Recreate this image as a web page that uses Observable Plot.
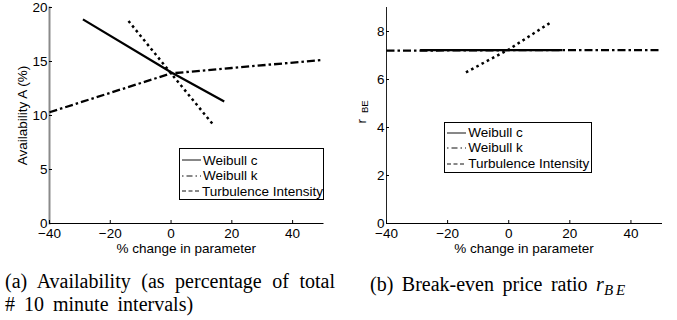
<!DOCTYPE html>
<html>
<head>
<meta charset="utf-8">
<script src="https://cdn.jsdelivr.net/npm/d3@7"></script>
<script src="https://cdn.jsdelivr.net/npm/@observablehq/plot@0.6"></script>
<style>
  body { margin: 0; background: #fff; }
  #fig { position: relative; width: 677px; height: 320px; overflow: hidden; background: #fff;
         font-family: "Liberation Sans", Arial, sans-serif; color: #000; }
  .panel { position: absolute; top: 0; }
  .panel svg { display: block; }
  .legend { position: absolute; box-sizing: border-box; background: #fff; border: 1px solid #000;
            font-size: 13.5px; line-height: 15.5px; white-space: nowrap; }
  .legend .row { display: flex; align-items: center; height: 15.5px; }
  .legend svg { display: block; margin-left: 2px; margin-right: 2px; }
  .caption { position: absolute; font-family: "Liberation Serif", "Times New Roman", serif;
             font-size: 20px; line-height: 23.5px; word-spacing: 4px; }
  #capA { left: 5px; top: 269.5px; width: 330px; text-align: justify; }
  #capB { left: 370px; top: 272.5px; word-spacing: 3.5px; white-space: nowrap; }
  #capB i { font-family: "Liberation Serif", serif; }
  #capB .sub { font-style: italic; font-family: "Liberation Serif", serif; font-size: 15px; letter-spacing: 3px; position: relative; top: 4px; }
</style>
</head>
<body>
<div id="fig">
  <div class="panel" id="panelA" style="left:0px"></div>
  <div class="panel" id="panelB" style="left:338px"></div>
  <div class="caption" id="capA">(a) Availability (as percentage of total # 10 minute intervals)</div>
  <div class="caption" id="capB">(b) Break-even price ratio <i>r</i><span class="sub">BE</span></div>
</div>
<script>
// Sensitivity of availability and break-even price ratio to each input parameter
const seriesNames = ["Weibull c", "Weibull k", "Turbulence Intensity"];

const weibullCChange = [-29, 0, 17.5];
const weibullCAvail = [18.9, 14.0, 11.3];
const weibullCRatio = [7.22, 7.22, 7.22];

const weibullKChange = [-40, -20, 0, 20, 50];
const weibullKAvail = [10.3, 12.1, 13.9, 14.4, 15.15];
const weibullKRatio = [7.2, 7.21, 7.22, 7.22, 7.22];

const turbChange = [-14, 0, 14];
const turbAvail = [18.75, 13.9, 9.1];
const turbRatio = [6.3, 7.25, 8.4];

const xTicks = [-40, -20, 0, 20, 40];
const availTicks = [0, 5, 10, 15, 20];
const ratioTicks = [0, 2, 4, 6, 8];

// line style per parameter (plot strokes and legend samples)
const lineStyle = {
  "Weibull c": {plot: {strokeWidth: 2.3}, key: {width: 1, dash: null}},
  "Weibull k": {plot: {strokeWidth: 2.3, strokeDasharray: "8,3,2.5,3"}, key: {width: 1, dash: "1.5,3,6,3"}},
  "Turbulence Intensity": {plot: {strokeWidth: 2.5, strokeDasharray: "2.6,3.3"}, key: {width: 1, dash: "4,2.5"}}
};

function rows(change, values, name) {
  return change.map((c, i) => ({change: c, value: values[i], name}));
}

const availData = {
  "Weibull c": rows(weibullCChange, weibullCAvail, "Weibull c"),
  "Weibull k": rows(weibullKChange, weibullKAvail, "Weibull k"),
  "Turbulence Intensity": rows(turbChange, turbAvail, "Turbulence Intensity")
};
const ratioData = {
  "Weibull c": rows(weibullCChange, weibullCRatio, "Weibull c"),
  "Weibull k": rows(weibullKChange, weibullKRatio, "Weibull k"),
  "Turbulence Intensity": rows(turbChange, turbRatio, "Turbulence Intensity")
};

function seriesLines(data) {
  return seriesNames.map((n) => Plot.line(data[n], {
    x: "change", y: "value", stroke: "#000", strokeLinecap: "butt", strokeLinejoin: "miter", ...lineStyle[n].plot
  }));
}

function panel({width, marginLeft, marginRight, yDomain, yTicks, data, yAxisStroke, yAxisWidth, yLabel, extra = []}) {
  return Plot.plot({
    width, height: 260,
    marginTop: 7, marginBottom: 37, marginLeft, marginRight,
    style: {fontFamily: "'Liberation Sans', Arial, sans-serif", fontSize: "13.5px", color: "#000", background: "transparent"},
    x: {domain: [-40, 50]},
    y: {domain: yDomain},
    marks: [
      Plot.frame({anchor: "left", stroke: yAxisStroke, strokeWidth: yAxisWidth}),
      Plot.frame({anchor: "bottom", stroke: "#000"}),
      Plot.axisX({ticks: xTicks, tickSize: -3, tickPadding: 8,
                  label: "% change in parameter", labelAnchor: "center", labelArrow: "none", labelOffset: 29}),
      Plot.axisY({ticks: yTicks, tickSize: -3, tickPadding: 5,
                  label: yLabel, labelAnchor: "center", labelArrow: "none", labelOffset: 32}),
      ...seriesLines(data),
      ...extra
    ]
  });
}

document.getElementById("panelA").append(panel({
  width: 338, marginLeft: 49, marginRight: 15.5,
  yDomain: [0, 20], yTicks: availTicks, data: availData,
  yAxisStroke: "#8a8a8a", yAxisWidth: 2, yLabel: "Availability A (%)"
}));

document.getElementById("panelB").append(panel({
  width: 339, marginLeft: 48, marginRight: 16,
  yDomain: [0, 9], yTicks: ratioTicks, data: ratioData,
  yAxisStroke: "#222", yAxisWidth: 1, yLabel: null,
  extra: [
    Plot.text(["r"], {frameAnchor: "left", rotate: -90, fontSize: 13.5, dx: -25, dy: 8}),
    Plot.text(["BE"], {frameAnchor: "left", rotate: -90, fontSize: 9.5, dx: -22, dy: -2.5})
  ]
}));

// legend boxes
function legend(left, top, width, height, padTop) {
  const box = document.createElement("div");
  box.className = "legend";
  Object.assign(box.style, {left: left + "px", top: top + "px", width: width + "px", height: height + "px", paddingTop: padTop + "px"});
  for (const n of seriesNames) {
    const row = document.createElement("div");
    row.className = "row";
    const s = d3.create("svg").attr("width", 19).attr("height", 10);
    s.append("line").attr("x1", 0).attr("x2", 19).attr("y1", 5).attr("y2", 5)
      .attr("stroke", "#111").attr("stroke-width", lineStyle[n].key.width)
      .attr("stroke-dasharray", lineStyle[n].key.dash);
    row.append(s.node());
    const t = document.createElement("span");
    t.textContent = n;
    row.append(t);
    box.append(row);
  }
  document.getElementById("fig").append(box);
}
legend(179, 148, 145, 52, 3.5);
legend(444.3, 121.7, 147.4, 51, 2.3);
</script>
</body>
</html>
